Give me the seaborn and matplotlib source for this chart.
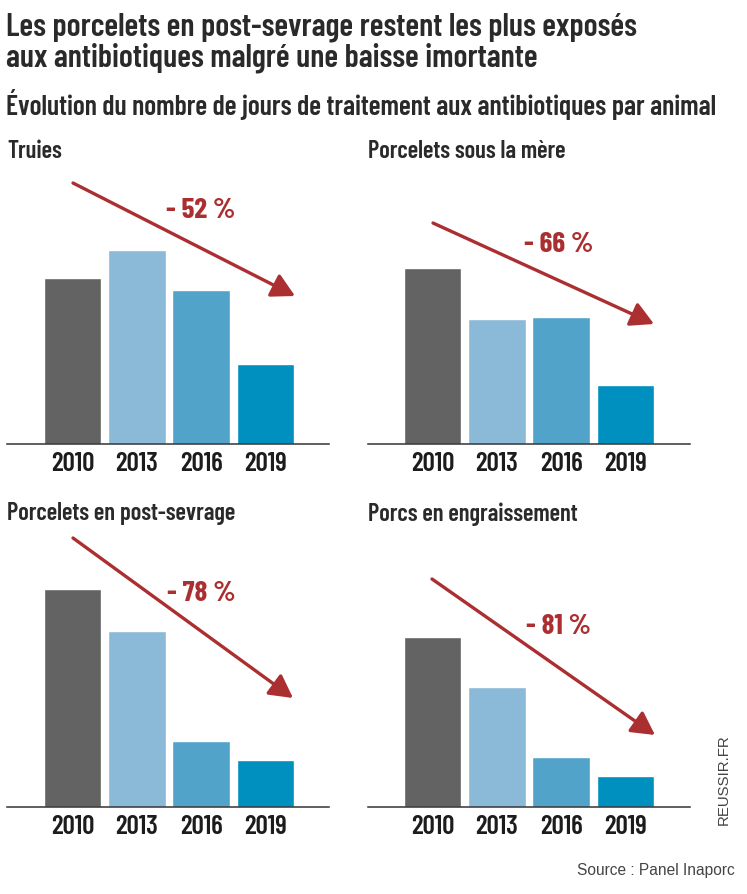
import matplotlib
matplotlib.use("Agg")
import matplotlib.pyplot as plt
import seaborn as sns
import pandas as pd

years = ["2010", "2013", "2016", "2019"]
colors = ["#636363", "#8bb9d8", "#52a3ca", "#0090bf"]
titles = ["Truies", "Porcelets sous la mère", "Porcelets en post-sevrage", "Porcs en engraissement"]
truies = [166, 194, 154, 80]
sous_mere = [176, 125, 127, 59]
post_sevrage = [218, 176, 66, 47]
engraissement = [170, 120, 50, 31]
series = [truies, sous_mere, post_sevrage, engraissement]
changes = ["- 52 %", "- 66 %", "- 78 %", "- 81 %"]

W, H = 747, 895
sns.set_theme(style="white")
COND = ["Barlow Condensed", "Liberation Sans", "DejaVu Sans"]
plt.rcParams["font.family"] = COND
fig = plt.figure(figsize=(W / 100, H / 100), dpi=100, facecolor="white")
DARK = "#2a2a2a"; RED = "#ab2f30"

def fx(x): return x / W
def fy(y): return 1 - y / H

# panel layout in pixels: left, right, baseline, top, first bar centre, title y
panels = [
    (7, 329, 445, 170, 72.5, 151),
    (368, 690, 445, 170, 432.5, 151),
    (7, 329, 808, 530, 72.5, 514),
    (368, 690, 808, 530, 432.5, 514),
]
arrows = [((73, 184), (295, 297)), ((433, 224), (654, 325)),
          ((73, 539), (293, 699)), ((432, 580), (655, 736))]
labels_pos = [(201, 210), (559, 245), (201, 594), (558, 626)]
pitch = 64.3

for vals, title, ch, (l, r, base, top, c0, ty), (a0, a1), lp in zip(series, titles, changes, panels, arrows, labels_pos):
    ax = fig.add_axes([fx(l), fy(base), (r - l) / W, (base - top) / H])
    df = pd.DataFrame({"year": years, "value": vals})
    sns.barplot(data=df, x="year", y="value", hue="year", palette=colors, legend=False,
                width=0.895, saturation=1, ax=ax)
    ax.set_xlim((l - c0) / pitch, (r - c0) / pitch)
    ax.set_ylim(0, base - top)
    ax.set_xlabel(""); ax.set_ylabel(""); ax.set_yticks([])
    for s in ["top", "left", "right"]:
        ax.spines[s].set_visible(False)
    ax.spines["bottom"].set_color("#333333"); ax.spines["bottom"].set_linewidth(1.1)
    ax.tick_params(axis="x", length=0, pad=5)
    for t in ax.get_xticklabels():
        t.set_fontsize(19.5); t.set_fontweight(600); t.set_color("#1c1c1c")
    fig.text(fx(l), fy(ty), title, fontsize=17.7, fontweight=600, color=DARK, va="center", ha="left")
    fig.text(fx(lp[0]), fy(lp[1]), ch, fontsize=21, fontweight=700, color=RED, va="center", ha="center")
    fig.add_artist(matplotlib.patches.FancyArrowPatch(
        (fx(a0[0]), fy(a0[1])), (fx(a1[0]), fy(a1[1])), transform=fig.transFigure,
        arrowstyle="-|>,head_length=0.7,head_width=0.38", mutation_scale=20,
        color=RED, linewidth=2.4, shrinkA=0, shrinkB=0))

fig.text(fx(6), fy(27), "Les porcelets en post-sevrage restent les plus exposés", fontsize=23.2,
         fontweight=600, color=DARK, va="center", ha="left")
fig.text(fx(6), fy(58), "aux antibiotiques malgré une baisse imortante", fontsize=23.2,
         fontweight=600, color=DARK, va="center", ha="left")
fig.text(fx(6), fy(104), "Évolution du nombre de jours de traitement aux antibiotiques par animal", fontsize=20,
         fontweight=600, color=DARK, va="center", ha="left")
fig.text(fx(724), fy(780), "REUSSIR.FR", fontsize=10.8, color="#444444", rotation=90, va="center", ha="center",
         family=["Liberation Sans", "DejaVu Sans"])
fig.text(fx(735), fy(871), "Source : Panel Inaporc", fontsize=11.2, color="#444444", va="center", ha="right",
         family=["Liberation Sans", "DejaVu Sans"])
fig.savefig("out.png", dpi=100)
